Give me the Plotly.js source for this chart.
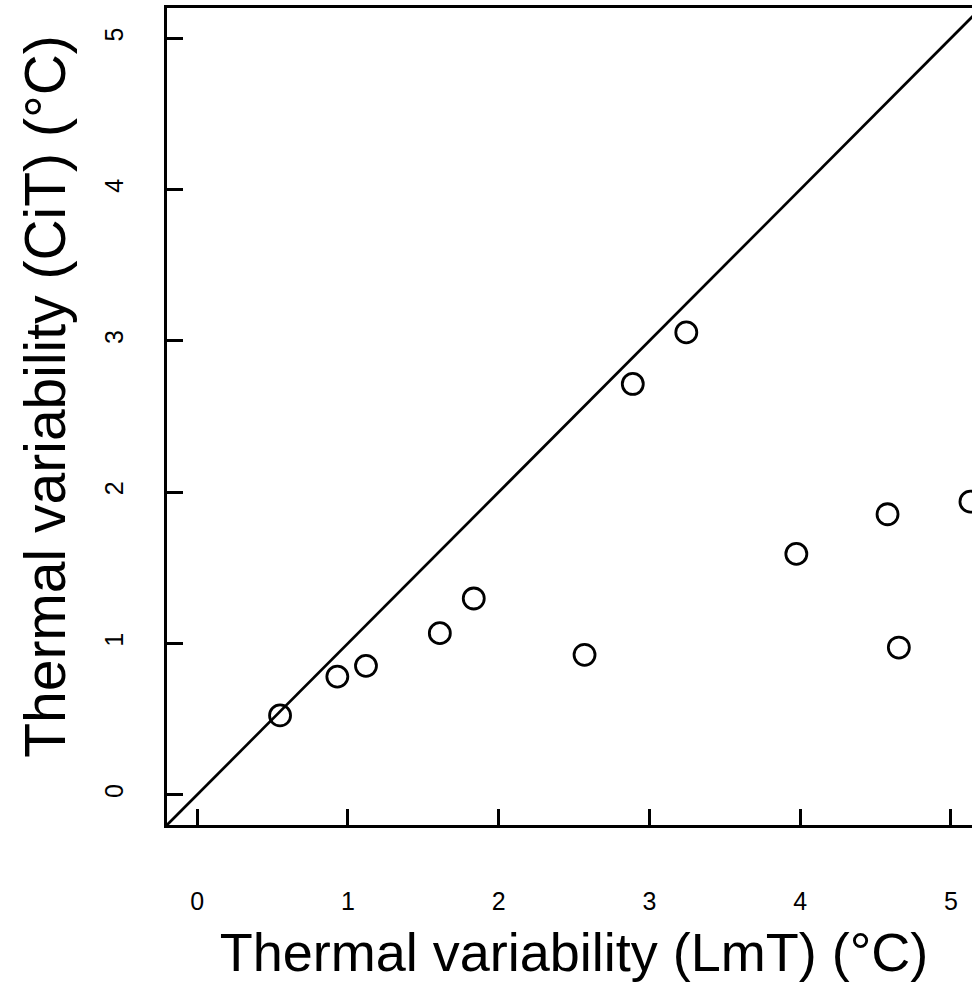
<!DOCTYPE html>
<html>
<head>
<meta charset="utf-8">
<script src="https://cdn.plot.ly/plotly-3.0.1.min.js"></script>
<style>
html, body { margin: 0; padding: 0; overflow: hidden; background: #fff; }
#chart { width: 990px; height: 983px; }
</style>
</head>
<body>
<div id="chart"></div>
<script>
// Thermal variability: LmT (x) vs CiT (y), °C
const lmtValues = [0.55, 0.93, 1.12, 1.61, 1.835, 2.57, 2.89, 3.245, 3.975, 4.58, 4.655, 5.13];
const citValues = [0.524, 0.781, 0.852, 1.068, 1.297, 0.925, 2.715, 3.056, 1.592, 1.854, 0.973, 1.937];
const identityLine = [-1, 6]; // 1:1 line, y = x
const tickValues = [0, 1, 2, 3, 4, 5];
const tickLabels = ['0', '1', '2', '3', '4', '5'];
const xTitle = 'Thermal variability (LmT) (°C)';
const yTitle = 'Thermal variability (CiT) (°C)';

const FONT = 'Liberation Sans, Arial, sans-serif';

const traces = [
  {
    x: identityLine,
    y: identityLine,
    mode: 'lines',
    line: { color: '#000', width: 2.7 },
    hoverinfo: 'skip',
    showlegend: false
  },
  {
    x: lmtValues,
    y: citValues,
    mode: 'markers',
    marker: { symbol: 'circle-open', size: 21, color: '#000', line: { color: '#000', width: 2.8 } },
    showlegend: false,
    cliponaxis: true
  }
];

const axisCommon = {
  showgrid: false,
  zeroline: false,
  showline: true,
  linecolor: '#000',
  linewidth: 3,
  mirror: true,
  ticks: 'inside',
  ticklen: 16,
  tickwidth: 2.8,
  tickcolor: '#000',
  tickmode: 'array',
  tickvals: tickValues,
  ticktext: tickLabels,
  tickfont: { family: FONT, size: 25, color: '#000' },
  automargin: false
};

const layout = {
  width: 990,
  height: 983,
  margin: { l: 167, r: 8.5, t: 8, b: 157.5 },
  paper_bgcolor: '#fff',
  plot_bgcolor: '#fff',
  showlegend: false,
  xaxis: Object.assign({}, axisCommon, {
    range: [-0.2, 5.2],
    ticklabelstandoff: 52,
    title: { text: xTitle, font: { family: FONT, size: 54, color: '#000' }, standoff: 20 }
  }),
  yaxis: Object.assign({}, axisCommon, {
    range: [-0.2, 5.2],
    tickangle: -90,
    ticklabelstandoff: 31
  }),
  annotations: [
    {
      text: yTitle,
      xref: 'paper', yref: 'paper',
      x: -167 / 814.5 + 45 / 814.5, y: (825.5 - 397) / 817.5,
      xanchor: 'center', yanchor: 'middle',
      textangle: -90,
      showarrow: false,
      font: { family: FONT, size: 57, color: '#000' }
    }
  ]
};

Plotly.newPlot('chart', traces, layout, { staticPlot: true, displayModeBar: false });
</script>
</body>
</html>
